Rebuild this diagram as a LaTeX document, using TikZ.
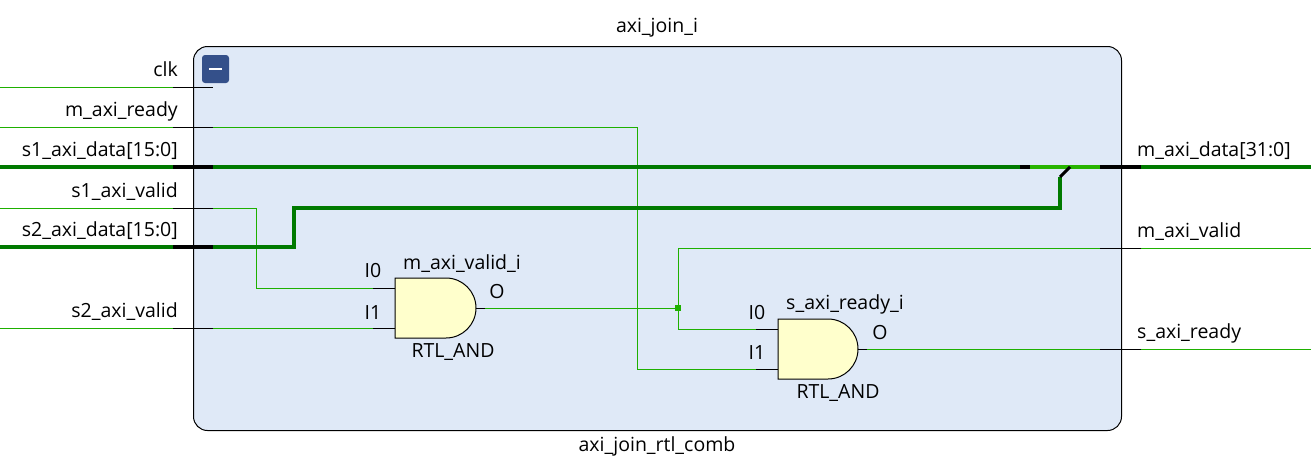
\documentclass[tikz,border=0pt]{standalone}
\usepackage{fontspec}
\setmainfont{Open Sans}
\definecolor{wg}{RGB}{30,176,0}
\definecolor{bg}{RGB}{0,122,0}
\definecolor{lg}{RGB}{40,180,0}
\definecolor{gy}{RGB}{255,255,204}
\definecolor{bx}{RGB}{223,233,247}
\definecolor{bt}{RGB}{52,80,138}
\begin{document}
\begin{tikzpicture}[x=1pt,y=-1pt,
  wire/.style={draw=wg,line width=1pt},
  bus/.style={draw=bg,line width=3.6pt},
  lbus/.style={draw=lg,line width=3.6pt},
  pin/.style={draw=black,line width=1pt},
  bpin/.style={draw=black,line width=3.6pt},
  lbl/.style={font=\fontsize{19.5}{22}\selectfont,inner sep=0pt},
  gate/.style={fill=gy,draw=black,line width=1pt}]
\useasboundingbox (0,0) rectangle (1311,463);
\node[draw=black,line width=1pt,rounded corners=14pt,fill=bx,minimum width=928pt,minimum height=384pt,anchor=north west,inner sep=0pt] (box) at (193,46) {};
\node[lbl] (t) at (657,28) {axi\_join\_i};
\node[lbl] (b) at (657,446) {axi\_join\_rtl\_comb};
\node[fill=bt,rounded corners=3pt,minimum width=27pt,minimum height=28pt,inner sep=0pt] (btn) at (215.5,69) {};
\draw[white,line width=2.5pt] (209,69) -- (222,69);
\foreach \n/\y/\t in {clk/87/clk, mar/127/m\_axi\_ready, s1d/167/s1\_axi\_data[15:0], s1v/208/s1\_axi\_valid, s2d/247/s2\_axi\_data[15:0], s2v/328/s2\_axi\_valid}
  \node[lbl,anchor=base east] (L\n) at (178,\y-11) {\t};
\foreach \y in {87,127,208,328}{\draw[wire] (0,\y) -- (173,\y); \draw[pin] (173,\y) -- (213,\y);}
\foreach \y in {167,247}{\draw[bus] (0,\y) -- (173,\y); \draw[bpin] (173,\y) -- (213,\y);}
\node[lbl,anchor=base west] (Rd) at (1137,156) {m\_axi\_data[31:0]};
\node[lbl,anchor=base west] (Rv) at (1137,237) {m\_axi\_valid};
\node[lbl,anchor=base west] (Rr) at (1137,338) {s\_axi\_ready};
\draw[bus] (1141,167) -- (1311,167); \draw[bpin] (1100,167) -- (1141,167);
\foreach \y in {248,349}{\draw[wire] (1141,\y) -- (1311,\y); \draw[pin] (1100,\y) -- (1141,\y);}
\draw[gate] (395,278) -- (446,278) arc[start angle=-90,end angle=90,radius=30] -- (395,338) -- cycle;
\draw[gate] (778,319) -- (828,319) arc[start angle=-90,end angle=90,radius=30] -- (778,379) -- cycle;
\draw[pin] (373,288) -- (395,288); \draw[pin] (373,328) -- (395,328); \draw[pin] (476,308) -- (485,308);
\draw[pin] (756,329) -- (778,329); \draw[pin] (756,369) -- (778,369); \draw[pin] (858,349) -- (867,349);
\node[lbl] (a1) at (373,271) {I0}; \node[lbl] (a2) at (373,313) {I1}; \node[lbl] (a3) at (497,292) {O};
\node[lbl] (n1) at (462,264) {m\_axi\_valid\_i}; \node[lbl] (r1) at (453,352) {RTL\_AND};
\node[lbl] (b1) at (757,313) {I0}; \node[lbl] (b2) at (757,353) {I1}; \node[lbl] (b3) at (880,333) {O};
\node[lbl] (n2) at (845,304) {s\_axi\_ready\_i}; \node[lbl] (r2) at (838,393) {RTL\_AND};
\draw[wire] (213,127) -- (637,127) -- (637,369) -- (756,369);
\draw[wire] (213,208) -- (256,208) -- (256,288) -- (373,288);
\draw[wire] (213,328) -- (373,328);
\draw[wire] (485,308) -- (678,308);
\draw[wire] (678,248) -- (678,329) -- (756,329);
\draw[wire] (678,248) -- (1100,248);
\draw[wire] (867,349) -- (1100,349);
\fill[wg] (675,305) rectangle (681,311);
\draw[bus] (213,167) -- (1020,167);
\draw[bpin] (1020,167) -- (1030,167);
\draw[lbus] (1030,167) -- (1100,167);
\draw[bus] (213,247) -- (294,247) -- (294,208) -- (1060,208) -- (1060,177);
\draw[black,line width=3pt] (1060,177) -- (1070,167);
\end{tikzpicture}
\end{document}
